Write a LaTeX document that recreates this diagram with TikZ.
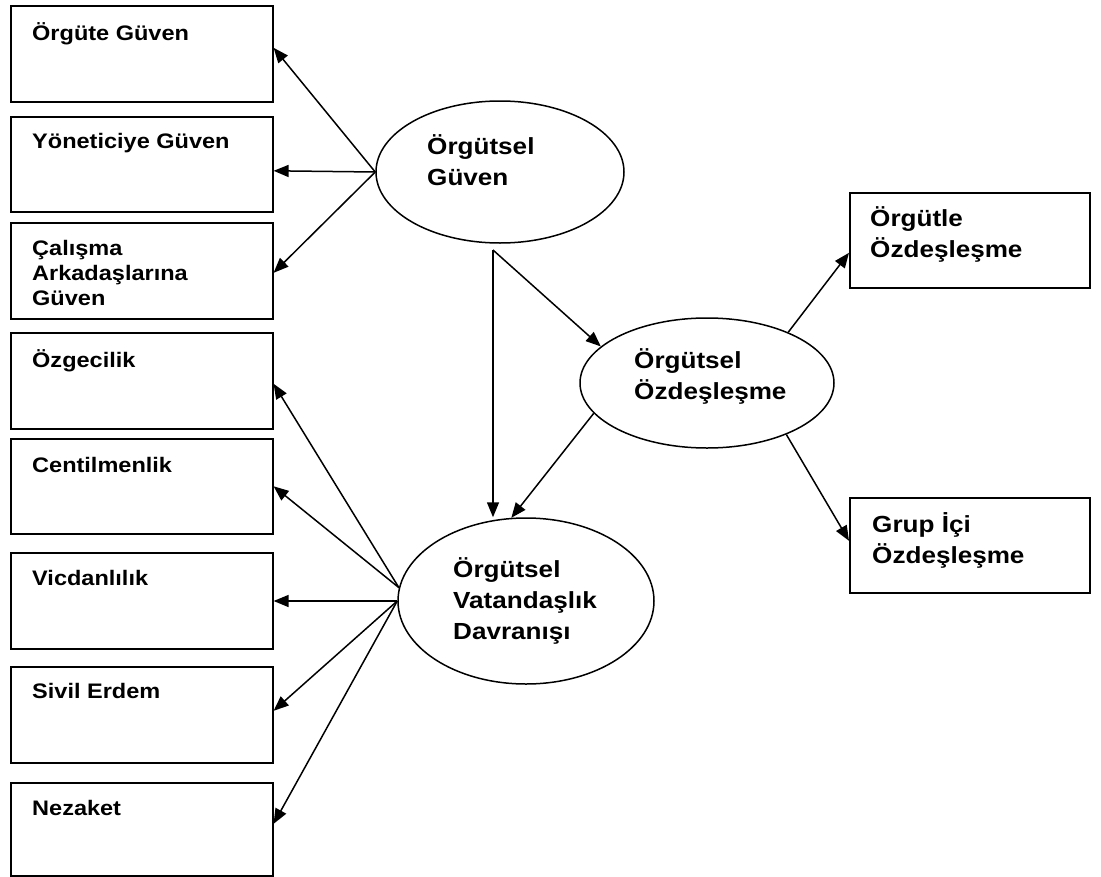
\documentclass[tikz,border=0pt]{standalone}
\usepackage{fontspec}
\newfontfamily\diagfont[FakeStretch=1.12]{Liberation Sans}
\usetikzlibrary{arrows.meta,shapes.geometric}
% stacked lines whose baseline is the first line's baseline
\newcommand{\labstack}[1]{\parbox[t]{320bp}{\raggedright #1}}
\begin{document}
\begin{tikzpicture}[x=1bp,y=-1bp,
  box/.style={draw, line width=1.6bp, anchor=north west, inner sep=0pt, minimum width=262bp},
  rbox/.style={draw, line width=1.6bp, anchor=north west, inner sep=0pt, minimum width=240bp, minimum height=95bp},
  latent/.style={draw, ellipse, line width=1.5bp, inner sep=0pt},
  small/.style={anchor=base west, inner sep=0pt, font=\diagfont\bfseries\fontsize{21bp}{25bp}\selectfont},
  large/.style={anchor=base west, inner sep=0pt, font=\diagfont\bfseries\fontsize{23.3bp}{31bp}\selectfont},
  link/.style={line width=1.5bp, -{Triangle[length=15bp,width=12bp]}}
]
\useasboundingbox (0,0) rectangle (1101,877);

% dimension boxes on the left
\node[box, minimum height=96bp] (b1) at (10,5) {};
\node[box, minimum height=95bp] (b2) at (10,116) {};
\node[box, minimum height=96bp] (b3) at (10,222) {};
\node[box, minimum height=96bp] (b4) at (10,332) {};
\node[box, minimum height=95bp] (b5) at (10,438) {};
\node[box, minimum height=96bp] (b6) at (10,552) {};
\node[box, minimum height=96bp] (b7) at (10,666) {};
\node[box, minimum height=93bp] (b8) at (10,782) {};

\node[small] (t1) at (32,40) {Örgüte Güven};
\node[small] (t2) at (32,148) {Yöneticiye Güven};
\node[small] (t3) at (32,255) {\labstack{Çalışma\\Arkadaşlarına\\Güven}};
\node[small] (t4) at (32,367) {Özgecilik};
\node[small] (t5) at (32,472) {Centilmenlik};
\node[small] (t6) at (32,585) {Vicdanlılık};
\node[small] (t7) at (32,698) {Sivil Erdem};
\node[small] (t8) at (32,815) {Nezaket};

% dimension boxes on the right
\node[rbox] (r1) at (849,192) {};
\node[rbox] (r2) at (849,497) {};
\node[large] (tr1) at (870,226) {\labstack{Örgütle\\Özdeşleşme}};
\node[large] (tr2) at (872,532) {\labstack{Grup İçi\\Özdeşleşme}};

% latent constructs
\node[latent, minimum width=248bp, minimum height=142bp] (g) at (500,172) {};
\node[latent, minimum width=254bp, minimum height=130bp] (oz) at (707,383) {};
\node[latent, minimum width=256bp, minimum height=166bp] (vd) at (526,601) {};
\node[large] (tg) at (427,154) {\labstack{Örgütsel\\Güven}};
\node[large] (toz) at (634,368) {\labstack{Örgütsel\\Özdeşleşme}};
\node[large] (tvd) at (453,577) {\labstack{Örgütsel\\Vatandaşlık\\Davranışı}};

% trust dimensions
\draw[link] (g.west) -- ([yshift=6bp]b1.east);
\draw[link] (g.west) -- ([yshift=-6.5bp]b2.east);
\draw[link] (g.west) -- ([yshift=-2bp]b3.east);

% structural paths
\coordinate (split) at (493,250);
\draw[link] (split) -- (split |- vd.north);
\draw[link] (split) -- (oz.161);
\draw[link] (oz.195) -- (vd.100);

% identification dimensions
\draw[link] (oz.32) -- ([yshift=-12.5bp]r1.west);
\draw[link] (oz.-33) -- ([yshift=4.5bp]r2.west);

% citizenship behaviour dimensions
\draw[link] (vd.174) -- ([yshift=-3bp]b4.east);
\draw[link] (vd.174) -- (b5.east);
\draw[link] (vd.west) -- (vd.west -| b6.east);
\draw[link] (vd.west) -- ([yshift=4bp]b7.east);
\draw[link] (vd.west) -- ([yshift=5.5bp]b8.east);
\end{tikzpicture}
\end{document}
